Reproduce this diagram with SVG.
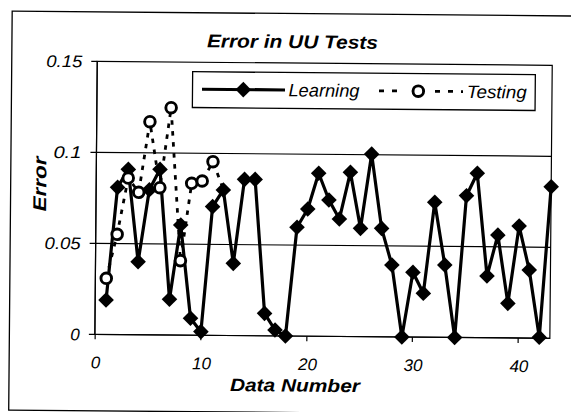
<svg xmlns="http://www.w3.org/2000/svg" xmlns:xlink="http://www.w3.org/1999/xlink" width="571" height="412" viewBox="0 0 571 412">
<style>
text{font-family:"Liberation Sans",Arial,sans-serif;fill:#000;font-style:italic}
.b{font-weight:bold}
.tick{font-size:17px}
.leg{font-size:18px}
.frame{fill:none;stroke:#000;stroke-width:1.3}
.grid{stroke:#000;stroke-width:1.2;fill:none}
.learn{fill:none;stroke:#000;stroke-width:3.2;stroke-linejoin:round}
.test{fill:none;stroke:#000;stroke-width:2.8;stroke-dasharray:4.5 6.5}
.circ{fill:#fff;stroke:#000;stroke-width:2.9}
</style>
<defs>
<path id="dm" d="M0,-7.8 L7.8,0 L0,7.8 L-7.8,0 Z" fill="#000"/>
<circle id="ci" r="5.3" class="circ"/>
</defs>
<rect width="571" height="412" fill="#fff"/>
<g transform="rotate(0.5 285 206)">
<rect id="chart-frame" class="frame" x="10.5" y="13.5" width="600" height="399"/>
<text id="title" class="b" x="291" y="48" font-size="18.5" text-anchor="middle" textLength="171" lengthAdjust="spacingAndGlyphs">Error in UU Tests</text>
<g id="plot-area">
<rect class="grid" x="96" y="63" width="455" height="273"/>
<path class="grid" d="M96,154 H551 M96,245 H551"/>
<path class="grid" stroke-width="1.6" d="M96,63 V336 H551"/>
<path class="grid" d="M90,63 H96 M90,154 H96 M90,245 H96 M90,336 H96 M96.3,336 V341 M202,336 V341 M308,336 V341 M413.5,336 V341 M519.3,336 V341"/>
</g>
<g id="y-labels" class="tick" text-anchor="end">
<text x="81" y="69" textLength="36" lengthAdjust="spacingAndGlyphs">0.15</text>
<text x="81" y="160" textLength="28" lengthAdjust="spacingAndGlyphs">0.1</text>
<text x="81" y="251" textLength="36" lengthAdjust="spacingAndGlyphs">0.05</text>
<text x="81" y="342">0</text>
</g>
<g id="x-labels" class="tick" text-anchor="middle">
<text x="97" y="370">0</text>
<text x="203" y="370">10</text>
<text x="309" y="370">20</text>
<text x="414.5" y="370">30</text>
<text x="520.3" y="370">40</text>
</g>
<text id="x-title" class="b" x="296.5" y="391.5" font-size="18" text-anchor="middle" textLength="130" lengthAdjust="spacingAndGlyphs">Data Number</text>
<text id="y-title" class="b" transform="translate(46 186) rotate(-90)" x="0" y="0" font-size="18.5" text-anchor="middle" textLength="55" lengthAdjust="spacingAndGlyphs">Error</text>
<g id="connectors">
<polyline id="learning-line" class="learn" points="106.9,301.6 117.4,188.8 128.0,170.7 138.6,263.0 149.2,191.0 159.7,170.4 170.3,300.3 180.9,225.9 191.5,319.1 202.0,332.4 212.6,207.3 223.2,190.5 233.8,263.8 244.3,179.7 254.9,179.6 265.5,313.5 276.1,330.1 286.6,336.0 297.2,227.2 307.8,208.8 318.4,173.0 328.9,199.6 339.5,218.5 350.1,171.7 360.7,227.7 371.2,153.4 381.8,227.5 392.4,264.1 403.0,336.0 413.5,271.2 424.1,292.1 434.7,201.0 445.3,263.6 455.8,336.0 466.4,194.1 477.0,171.6 487.6,274.2 498.1,233.2 508.7,301.4 519.3,224.0 529.8,267.9 540.4,335.1 551.0,184.4"/>
</g>
<g id="learning-markers">
<use xlink:href="#dm" x="106.9" y="301.6"/><use xlink:href="#dm" x="117.4" y="188.8"/><use xlink:href="#dm" x="128.0" y="170.7"/><use xlink:href="#dm" x="138.6" y="263.0"/><use xlink:href="#dm" x="149.2" y="191.0"/><use xlink:href="#dm" x="159.7" y="170.4"/><use xlink:href="#dm" x="170.3" y="300.3"/><use xlink:href="#dm" x="180.9" y="225.9"/><use xlink:href="#dm" x="191.5" y="319.1"/><use xlink:href="#dm" x="202.0" y="332.4"/><use xlink:href="#dm" x="212.6" y="207.3"/><use xlink:href="#dm" x="223.2" y="190.5"/><use xlink:href="#dm" x="233.8" y="263.8"/><use xlink:href="#dm" x="244.3" y="179.7"/><use xlink:href="#dm" x="254.9" y="179.6"/><use xlink:href="#dm" x="265.5" y="313.5"/><use xlink:href="#dm" x="276.1" y="330.1"/><use xlink:href="#dm" x="286.6" y="336.0"/><use xlink:href="#dm" x="297.2" y="227.2"/><use xlink:href="#dm" x="307.8" y="208.8"/><use xlink:href="#dm" x="318.4" y="173.0"/><use xlink:href="#dm" x="328.9" y="199.6"/><use xlink:href="#dm" x="339.5" y="218.5"/><use xlink:href="#dm" x="350.1" y="171.7"/><use xlink:href="#dm" x="360.7" y="227.7"/><use xlink:href="#dm" x="371.2" y="153.4"/><use xlink:href="#dm" x="381.8" y="227.5"/><use xlink:href="#dm" x="392.4" y="264.1"/><use xlink:href="#dm" x="403.0" y="336.0"/><use xlink:href="#dm" x="413.5" y="271.2"/><use xlink:href="#dm" x="424.1" y="292.1"/><use xlink:href="#dm" x="434.7" y="201.0"/><use xlink:href="#dm" x="445.3" y="263.6"/><use xlink:href="#dm" x="455.8" y="336.0"/><use xlink:href="#dm" x="466.4" y="194.1"/><use xlink:href="#dm" x="477.0" y="171.6"/><use xlink:href="#dm" x="487.6" y="274.2"/><use xlink:href="#dm" x="498.1" y="233.2"/><use xlink:href="#dm" x="508.7" y="301.4"/><use xlink:href="#dm" x="519.3" y="224.0"/><use xlink:href="#dm" x="529.8" y="267.9"/><use xlink:href="#dm" x="540.4" y="335.1"/><use xlink:href="#dm" x="551.0" y="184.4"/>
</g>
<g id="testing-series">
<polyline class="test" points="106.9,279.9 117.4,235.8 128.0,179.4 138.6,193.6 149.2,122.9 159.7,188.8 170.3,108.7 180.9,261.6 191.5,184.1 202.0,181.7 212.6,162.3 223.2,190"/>
<use xlink:href="#ci" x="106.9" y="279.9"/><use xlink:href="#ci" x="117.4" y="235.8"/><use xlink:href="#ci" x="128.0" y="179.4"/><use xlink:href="#ci" x="138.6" y="193.6"/><use xlink:href="#ci" x="149.2" y="122.9"/><use xlink:href="#ci" x="159.7" y="188.8"/><use xlink:href="#ci" x="170.3" y="108.7"/><use xlink:href="#ci" x="180.9" y="261.6"/><use xlink:href="#ci" x="191.5" y="184.1"/><use xlink:href="#ci" x="202.0" y="181.7"/><use xlink:href="#ci" x="212.6" y="162.3"/>
</g>
<g id="legend">
<rect class="frame" x="191.5" y="72.5" width="342.7" height="35.8" fill="#fff"/>
<path class="learn" d="M201,90 H284"/>
<use xlink:href="#dm" x="242.3" y="90"/>
<text class="leg" x="287.5" y="96.3" textLength="71" lengthAdjust="spacingAndGlyphs">Learning</text>
<path class="test" style="stroke-dasharray:5 8" d="M378,90 H397 M434,90 H462"/>
<use xlink:href="#ci" x="417.3" y="90"/>
<text class="leg" x="465.7" y="96.3" textLength="60" lengthAdjust="spacingAndGlyphs">Testing</text>
</g>
</g>
</svg>
